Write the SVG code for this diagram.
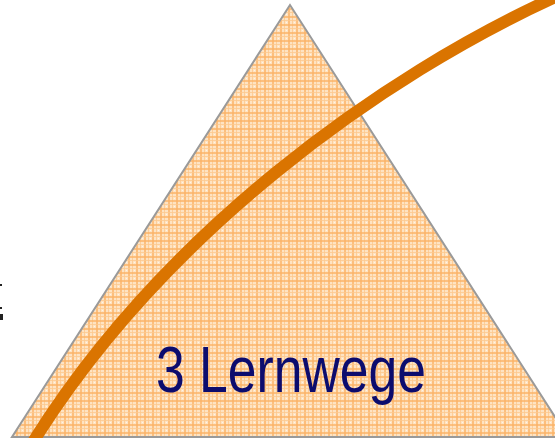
<svg xmlns="http://www.w3.org/2000/svg" width="555" height="438" viewBox="0 0 555 438">
  <defs>
    <pattern id="plaid" width="8" height="8" patternUnits="userSpaceOnUse">
      <rect width="8" height="8" fill="#fee3c2"/>
      <rect x="0" y="0" width="2" height="8" fill="#fbb366" opacity="0.75"/>
      <rect x="4" y="0" width="1" height="8" fill="#fcc98e" opacity="0.8"/>
      <rect x="0" y="0" width="8" height="2" fill="#fbb366" opacity="0.75"/>
      <rect x="0" y="4" width="8" height="1" fill="#fcc98e" opacity="0.8"/>
      <rect x="6" y="6" width="1" height="1" fill="#fff4e6"/>
    </pattern>
    <style>
      .tri { fill: url(#plaid); stroke: #9a9a9a; stroke-width: 2; stroke-linejoin: miter; }
      .curve { fill: none; stroke: #da7400; stroke-width: 12; }
      .label { font-family: "Liberation Sans", Arial, sans-serif; font-size: 65px; fill: #0c0c6e; }
      .mark { fill: #222; }
    </style>
  </defs>
  <rect width="555" height="438" fill="#ffffff"/>
  <g id="left-mark">
    <rect class="mark" x="0" y="284" width="2" height="2" fill="#888"/>
    <rect class="mark" x="0" y="307" width="2" height="2" fill="#888"/>
    <rect class="mark" x="0" y="314" width="3" height="6"/>
  </g>
  <g id="pyramid">
    <polygon class="tri" points="290,5 12,437 568,437"/>
    <text class="label" x="156" y="392" textLength="270" lengthAdjust="spacingAndGlyphs">3 Lernwege</text>
  </g>
  <g id="connectors">
    <path class="curve" d="M 33 442 C 163 234 380 76 560 -5"/>
  </g>
</svg>
